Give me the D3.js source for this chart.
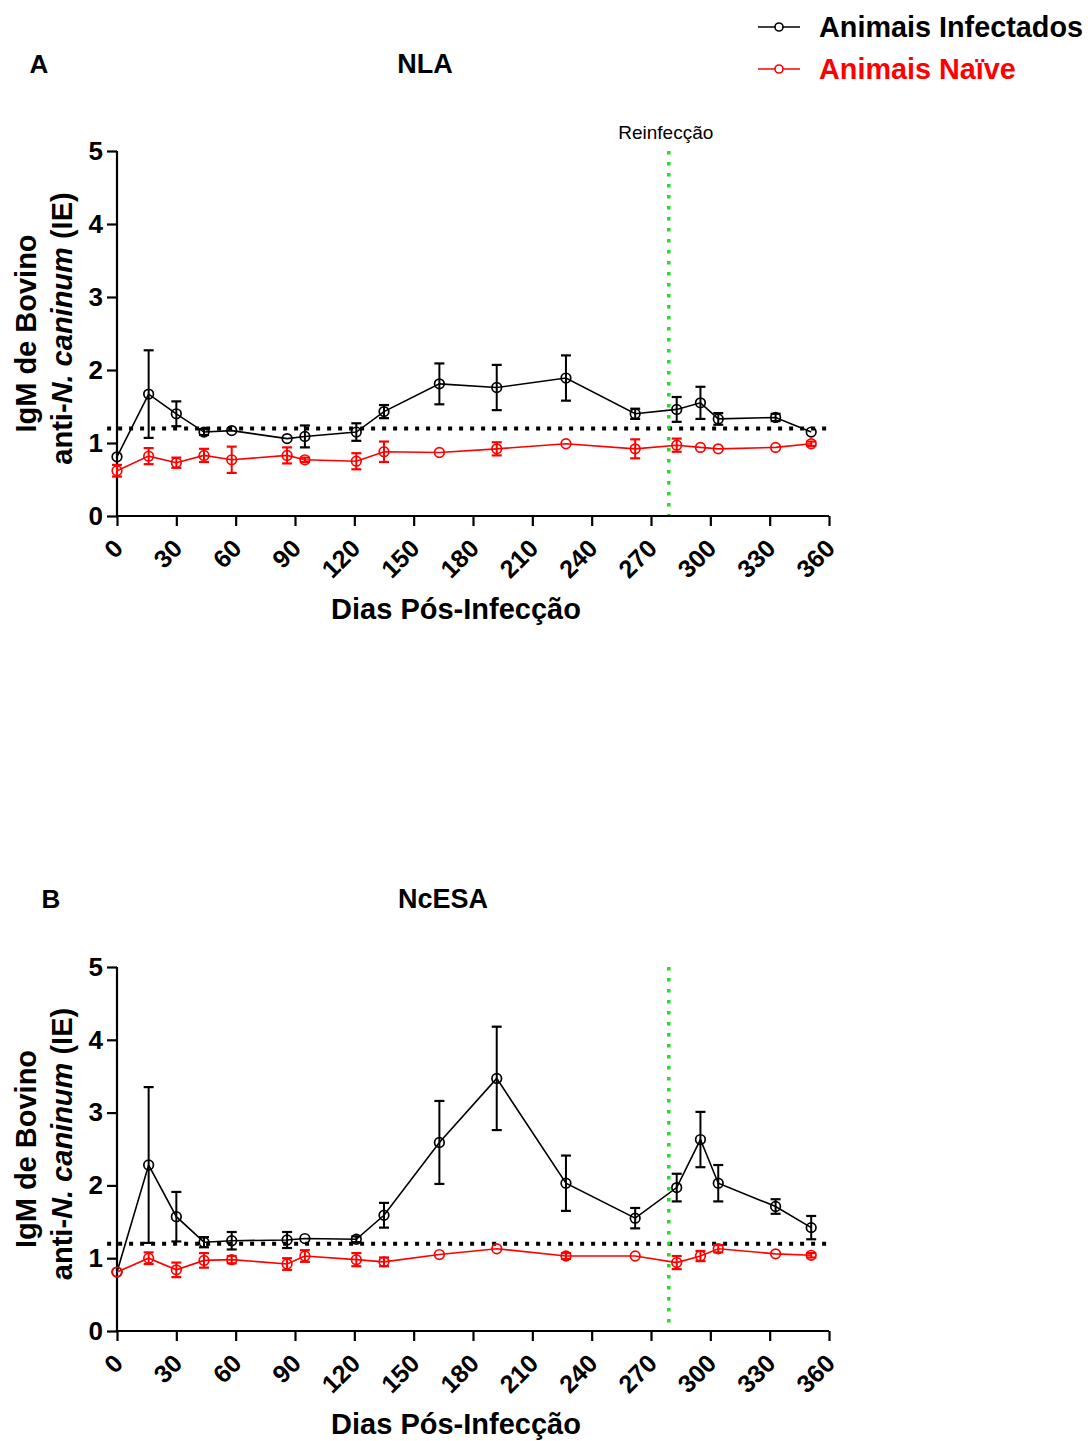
<!DOCTYPE html>
<html>
<head>
<meta charset="utf-8">
<script src="https://cdn.jsdelivr.net/npm/d3@7"></script>
<style>
  html, body { margin: 0; padding: 0; background: #fff; }
  svg { display: block; font-family: "Liberation Sans", Arial, sans-serif; }
</style>
</head>
<body>
<svg id="chart" width="1088" height="1441"></svg>
<script>
// Sampling days (post-infection)
const days = [0, 16, 30, 44, 58, 86, 95, 121, 135, 163, 192, 227, 262, 283, 295, 304, 333, 351];

// NLA antigen: mean index (IE) and SEM
const nlaInfected    = [0.81, 1.67, 1.40, 1.15, 1.17, 1.06, 1.09, 1.15, 1.43, 1.81, 1.76, 1.89, 1.40, 1.46, 1.55, 1.33, 1.35, 1.15];
const nlaInfectedErr = [0, 0.60, 0.17, 0.04, 0, 0, 0.15, 0.12, 0.09, 0.28, 0.31, 0.31, 0.07, 0.17, 0.22, 0.08, 0.05, 0];
const nlaNaive       = [0.62, 0.82, 0.73, 0.83, 0.77, 0.83, 0.77, 0.75, 0.88, 0.87, 0.92, 0.99, 0.92, 0.97, 0.94, 0.92, 0.94, 0.99];
const nlaNaiveErr    = [0.08, 0.11, 0.07, 0.09, 0.18, 0.11, 0.03, 0.11, 0.14, 0, 0.09, 0, 0.13, 0.09, 0, 0, 0, 0.03];

// NcESA antigen: mean index (IE) and SEM
const esaInfected    = [0.81, 2.28, 1.57, 1.22, 1.24, 1.25, 1.27, 1.26, 1.59, 2.59, 3.47, 2.03, 1.55, 1.97, 2.63, 2.03, 1.71, 1.42];
const esaInfectedErr = [0, 1.07, 0.34, 0.07, 0.12, 0.11, 0, 0.04, 0.17, 0.57, 0.71, 0.38, 0.14, 0.19, 0.38, 0.25, 0.10, 0.16];
const esaNaive       = [0.81, 1.00, 0.84, 0.97, 0.98, 0.92, 1.03, 0.98, 0.95, 1.05, 1.13, 1.03, 1.03, 0.94, 1.03, 1.13, 1.06, 1.04];
const esaNaiveErr    = [0, 0.08, 0.10, 0.10, 0.05, 0.08, 0.08, 0.09, 0.06, 0, 0, 0.04, 0, 0.09, 0.07, 0.05, 0, 0.03];

// Axis ticks, cut-off and reinfection day
const xTicks = [0, 30, 60, 90, 120, 150, 180, 210, 240, 270, 300, 330, 360];
const yTicks = [0, 1, 2, 3, 4, 5];
const cutoff = 1.2;
const reinfectionDay = 279;

const seriesNames = ["Animais Infectados", "Animais Naïve"];
const panelLetters = ["A", "B"];
const panelTitles = ["NLA", "NcESA"];
const xTitle = "Dias Pós-Infecção";
const reinfectionLabel = "Reinfecção";

const colInf = "#000000";
const colNaive = "#ff0000";
const colGreen = "#22dd22";

const svg = d3.select("#chart");

const panels = [
  { top: 151, bottom: 516, inf: nlaInfected, infErr: nlaInfectedErr, nai: nlaNaive, naiErr: nlaNaiveErr, letter: panelLetters[0], title: panelTitles[0], titleY: 73, letterX: 39, titleX: 425, showLabel: true },
  { top: 967, bottom: 1331, inf: esaInfected, infErr: esaInfectedErr, nai: esaNaive, naiErr: esaNaiveErr, letter: panelLetters[1], title: panelTitles[1], titleY: 908, letterX: 51, titleX: 443, showLabel: false }
];

const left = 117, right = 829;

panels.forEach(p => {
  const x = d3.scaleLinear().domain([0, 360]).range([left, right]);
  const y = d3.scaleLinear().domain([0, 5]).range([p.bottom, p.top]);
  const g = svg.append("g");

  // panel letter and title
  g.append("text").attr("x", p.letterX).attr("y", p.titleY)
    .attr("text-anchor", "middle").attr("font-size", 26).attr("font-weight", "bold").text(p.letter);
  g.append("text").attr("x", p.titleX).attr("y", p.titleY)
    .attr("text-anchor", "middle").attr("font-size", 27).attr("font-weight", "bold").text(p.title);

  // cut-off line
  g.append("line")
    .attr("x1", x(-5)).attr("x2", x(360)).attr("y1", y(cutoff)).attr("y2", y(cutoff))
    .attr("stroke", "#000").attr("stroke-width", 4).attr("stroke-dasharray", "4 7");

  // reinfection marker
  g.append("line")
    .attr("x1", x(reinfectionDay)).attr("x2", x(reinfectionDay))
    .attr("y1", y(5)).attr("y2", y(0))
    .attr("stroke", colGreen).attr("stroke-width", 3.5).attr("stroke-dasharray", "3.5 7.5");
  if (p.showLabel) {
    g.append("text").attr("x", x(reinfectionDay) - 3).attr("y", y(5) - 12)
      .attr("text-anchor", "middle").attr("font-size", 19).text(reinfectionLabel);
  }

  // axes
  const yAxis = d3.axisLeft(y).tickValues(yTicks).tickSize(10).tickPadding(4).tickFormat(d3.format("d"));
  const ya = g.append("g").attr("transform", `translate(${left},0)`).call(yAxis);
  ya.select(".domain").attr("stroke-width", 2.2).attr("d", `M-0,${y(5)}V${y(0)}`);
  ya.selectAll(".tick line").attr("stroke-width", 2.2);
  ya.selectAll(".tick text").attr("font-size", 26).attr("font-weight", "bold")
    .attr("font-family", "Liberation Sans, Arial, sans-serif").attr("fill", "#000");

  const xAxis = d3.axisBottom(x).tickValues(xTicks).tickSize(10).tickFormat(d3.format("d"));
  const xa = g.append("g").attr("transform", `translate(0,${p.bottom})`).call(xAxis);
  xa.select(".domain").attr("stroke-width", 2.2).attr("d", `M${left},0H${right}`);
  xa.selectAll(".tick line").attr("stroke-width", 2.2);
  xa.selectAll(".tick text")
    .attr("font-size", 25).attr("font-weight", "bold")
    .attr("font-family", "Liberation Sans, Arial, sans-serif").attr("fill", "#000")
    .attr("text-anchor", "end").attr("dy", null).attr("y", null)
    .attr("transform", "translate(7,34) rotate(-45)");

  // axis titles
  g.append("text").attr("x", 456).attr("y", p.bottom + 103)
    .attr("text-anchor", "middle").attr("font-size", 29).attr("font-weight", "bold").text(xTitle);

  const cy = (p.top + p.bottom) / 2;
  g.append("text").attr("transform", `translate(36,${cy}) rotate(-90)`)
    .attr("text-anchor", "middle").attr("font-size", 29).attr("font-weight", "bold").text("IgM de Bovino");
  const t2 = g.append("text").attr("transform", `translate(72,${cy - 5}) rotate(-90)`)
    .attr("text-anchor", "middle").attr("font-size", 29).attr("font-weight", "bold");
  t2.append("tspan").text("anti-");
  t2.append("tspan").attr("font-style", "italic").text("N. caninum");
  t2.append("tspan").text(" (IE)");

  // series
  const series = [
    { vals: p.inf, errs: p.infErr, color: colInf },
    { vals: p.nai, errs: p.naiErr, color: colNaive }
  ];
  const line = d3.line().x(d => x(d.day)).y(d => y(d.v));
  series.forEach(s => {
    const pts = days.map((d, i) => ({ day: d, v: s.vals[i], e: s.errs[i] }));
    const sg = g.append("g");
    sg.append("path").datum(pts).attr("d", line)
      .attr("fill", "none").attr("stroke", s.color).attr("stroke-width", 1.6);
    const eb = sg.selectAll(".err").data(pts.filter(d => d.e > 0)).join("g");
    eb.append("line")
      .attr("x1", d => x(d.day)).attr("x2", d => x(d.day))
      .attr("y1", d => y(d.v + d.e)).attr("y2", d => y(d.v - d.e))
      .attr("stroke", s.color).attr("stroke-width", 2);
    [1, -1].forEach(sign => {
      eb.append("line")
        .attr("x1", d => x(d.day) - 5).attr("x2", d => x(d.day) + 5)
        .attr("y1", d => y(d.v + sign * d.e)).attr("y2", d => y(d.v + sign * d.e))
        .attr("stroke", s.color).attr("stroke-width", 2.2);
    });
    sg.selectAll("circle").data(pts).join("circle")
      .attr("cx", d => x(d.day)).attr("cy", d => y(d.v)).attr("r", 4.8)
      .attr("fill", "none").attr("stroke", s.color).attr("stroke-width", 1.7);
  });
});

// legend
const legend = svg.append("g");
[{ name: seriesNames[0], color: colInf, y: 27 }, { name: seriesNames[1], color: colNaive, y: 69 }].forEach(l => {
  legend.append("line").attr("x1", 758).attr("x2", 800).attr("y1", l.y).attr("y2", l.y)
    .attr("stroke", l.color).attr("stroke-width", 1.6);
  legend.append("circle").attr("cx", 779).attr("cy", l.y).attr("r", 4)
    .attr("fill", "#fff").attr("stroke", l.color).attr("stroke-width", 1.6);
  legend.append("text").attr("x", 819).attr("y", l.y + 10)
    .attr("font-size", 28.8).attr("font-weight", "bold").attr("fill", l.color).text(l.name);
});
</script>
</body>
</html>
